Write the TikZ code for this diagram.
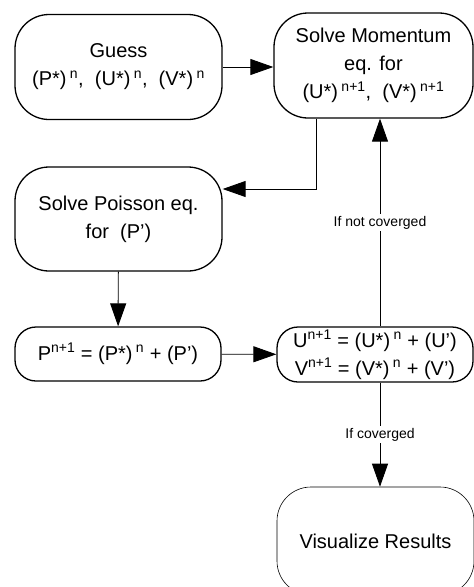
\documentclass[tikz,border=0pt]{standalone}
\usepackage{fontspec}
\setmainfont{Liberation Sans}
\usetikzlibrary{arrows.meta}
\newcommand{\pw}[1]{\,\textsuperscript{#1}}
\begin{document}
\begin{tikzpicture}[x=1pt,y=-1pt,
  main/.style={draw,line width=1.3pt,rounded corners=34pt,align=center,inner sep=0pt,font=\fontsize{20}{28}\selectfont},
  flat/.style={main,rounded corners=21pt},
  thin/.style={main,line width=0.6pt},
  arr/.style={line width=0.9pt,-{Triangle[length=23pt,width=16pt]}},
  lbl/.style={fill=white,font=\fontsize{14}{16}\selectfont,inner sep=2pt}]
\useasboundingbox (0,0) rectangle (474,587);
\clip (0,0) rectangle (474,587);
\node[main,minimum width=207pt,minimum height=105pt] (1) at (118.5,67) {Guess\\(P*)\pw{n},\ \ (U*)\pw{n},\ \ (V*)\pw{n}};
\node[main,minimum width=199pt,minimum height=105pt] (2) at (373.5,65.5) {Solve Momentum\\eq. for\\(U*)\pw{n+1},\ \ (V*)\pw{n+1}};
\node[main,minimum width=207pt,minimum height=104pt] (3) at (118.5,219) {Solve Poisson eq.\\for\ \ (P’)};
\node[flat,minimum width=206pt,minimum height=54pt] (4) at (118,354) {P\textsuperscript{n+1} = (P*)\pw{n} + (P’)};
\node[flat,minimum width=196pt,minimum height=55pt] (5) at (375,354.5) {U\textsuperscript{n+1} = (U*)\pw{n} + (U’)\\V\textsuperscript{n+1} = (V*)\pw{n} + (V’)};
\node[thin,minimum width=197pt,minimum height=108pt] (6) at (375.5,541) {Visualize Results};
\coordinate (turn) at (316,189);
\coordinate (axis) at (380,0);
\draw[arr] (1.east) -- (1.east -| 2.west);
\draw[arr] (2.south -| turn) -- (turn) -- (3.east |- turn);
\draw[arr] (3) -- (4);
\draw[arr] (4) -- (5);
\draw[arr] (5.north -| axis) -- node[lbl] {If not coverged} (2.south -| axis);
\draw[arr] (5.south -| axis) -- node[lbl] {If coverged} (6.north -| axis);
\end{tikzpicture}
\end{document}
